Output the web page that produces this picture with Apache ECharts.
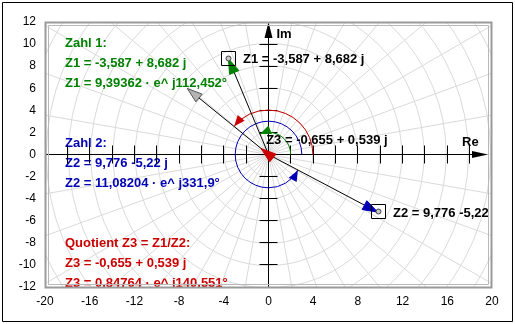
<!DOCTYPE html>
<html>
<head>
<meta charset="utf-8">
<script src="https://cdn.jsdelivr.net/npm/echarts@6/dist/echarts.min.js"></script>
<style>
  html, body { margin: 0; padding: 0; background: #fff; }
  #chart { width: 515px; height: 324px; }
</style>
</head>
<body>
<div id="chart"></div>
<script>
// Complex numbers as [real, imaginary]
const Z1 = [-3.587, 8.682];
const Z2 = [9.776, -5.22];
const Z3 = [-0.655, 0.539];           // quotient Z1 / Z2
// Polar form of Z1, Z2, Z3: magnitude and angle (degrees)
const magnitudes = [9.39362, 11.08204, 0.84764];
const anglesDeg = [112.452, 331.9, 140.551];
// Radius (axis units) of the angle arc drawn for Z1, Z2, Z3
const arcRadii = [2, 3, 4];

// Axis ranges and label steps
const xRange = [-20, 20];
const yRange = [-12, 12];
const xLabelStep = 4;
const yLabelStep = 2;
const axisTickStep = 2;
// Polar background grid
const ringStep = 2;
const spokeStepDeg = 10;

const GREEN = '#008000', BLUE = '#0000b4', RED = '#cc0000';
const FONT = '"Liberation Sans", Arial, sans-serif';
const BOLD = 'bold 13px ' + FONT;

// German number formatting with decimal comma
const de = v => String(v).replace('.', ',');
const cartText = (n, z) => 'Z' + n + ' = ' + de(z[0]) + (z[1] < 0 ? ' ' + de(z[1]) : ' + ' + de(z[1])) + ' j';
const polarText = (n, m, a) => 'Z' + n + ' = ' + de(m) + ' \u00b7 e^ j' + de(a) + '\u00b0';

const infoLines = [
  { text: 'Zahl 1:', color: GREEN },
  { text: cartText(1, Z1), color: GREEN },
  { text: polarText(1, magnitudes[0], anglesDeg[0]), color: GREEN },
  { text: 'Zahl 2:', color: BLUE, gap: true },
  { text: cartText(2, Z2), color: BLUE },
  { text: polarText(2, magnitudes[1], anglesDeg[1]), color: BLUE },
  { text: 'Quotient Z3 = Z1/Z2:', color: RED, gap: true },
  { text: cartText(3, Z3), color: RED },
  { text: polarText(3, magnitudes[2], anglesDeg[2]), color: RED }
];

const chart = echarts.init(document.getElementById('chart'), null, { renderer: 'canvas' });

function arrowHead(tip, dir, len, half) {
  const l = Math.hypot(dir[0], dir[1]);
  const d = [dir[0] / l, dir[1] / l];
  const n = [-d[1], d[0]];
  const b = [tip[0] - d[0] * len, tip[1] - d[1] * len];
  return [tip, [b[0] + n[0] * half, b[1] + n[1] * half], [b[0] - n[0] * half, b[1] - n[1] * half]];
}
const crisp = v => Math.round(v - 0.5) + 0.5;

// Light polar grid: rings and spokes around the origin
function renderPolarGrid(params, api) {
  const o = api.coord([0, 0]);
  const ux = api.size([1, 0])[0], uy = api.size([0, 1])[1];
  const u = (ux + uy) / 2;
  const kids = [];
  const style = { fill: 'none', stroke: '#dadada', lineWidth: 1 };
  for (let r = ringStep; r <= 26; r += ringStep) {
    kids.push({ type: 'circle', shape: { cx: o[0], cy: o[1], r: r * u }, style });
  }
  for (let a = 0; a < 360; a += spokeStepDeg) {
    const t = a * Math.PI / 180;
    kids.push({ type: 'line', shape: { x1: o[0], y1: o[1], x2: o[0] + Math.cos(t) * 400, y2: o[1] - Math.sin(t) * 400 }, style });
  }
  return { type: 'group', children: kids };
}

// Axes through the origin, angle arcs, vectors and their labels
function renderPlane(params, api) {
  const o = api.coord([0, 0]);
  const ox = crisp(o[0]), oy = crisp(o[1]);
  const ux = api.size([1, 0])[0], uy = api.size([0, 1])[1];
  const u = (ux + uy) / 2;
  const left = api.coord([xRange[0], 0])[0], right = api.coord([xRange[1], 0])[0];
  const top = api.coord([0, yRange[1]])[1], bottom = api.coord([0, yRange[0]])[1];
  const kids = [];
  const black = { stroke: '#000', lineWidth: 1 };

  // ticks
  for (let v = xRange[0] + axisTickStep; v < xRange[1]; v += axisTickStep) {
    if (v === 0) continue;
    const x = crisp(api.coord([v, 0])[0]);
    kids.push({ type: 'line', shape: { x1: x, y1: oy - 9, x2: x, y2: oy + 9 }, style: black });
  }
  for (let v = yRange[0] + axisTickStep; v < yRange[1]; v += axisTickStep) {
    if (v === 0) continue;
    const y = crisp(api.coord([0, v])[1]);
    kids.push({ type: 'line', shape: { x1: ox - 9, y1: y, x2: ox + 9, y2: y }, style: black });
  }
  // axis lines with arrows
  const xTip = right - 4;
  kids.push({ type: 'line', shape: { x1: left, y1: oy, x2: xTip - 4, y2: oy }, style: black });
  kids.push({ type: 'polygon', shape: { points: arrowHead([xTip, oy], [1, 0], 16, 3.5) }, style: { fill: '#000' } });
  kids.push({ type: 'line', shape: { x1: ox, y1: bottom, x2: ox, y2: top + 4 }, style: black });
  kids.push({ type: 'polygon', shape: { points: arrowHead([ox, top], [0, -1], 16, 4) }, style: { fill: '#000' } });
  kids.push({ type: 'text', style: { text: 'Re', x: xTip - 26, y: oy - 12, fill: '#000', font: BOLD, align: 'left', verticalAlign: 'middle' } });
  kids.push({ type: 'text', style: { text: 'Im', x: ox + 8, y: top + 12, fill: '#000', font: BOLD, align: 'left', verticalAlign: 'middle' } });

  // angle arcs with arrowheads
  const arcColors = [GREEN, BLUE, RED];
  anglesDeg.forEach((deg, i) => {
    const r = arcRadii[i] * u;
    const t = deg * Math.PI / 180;
    kids.push({ type: 'arc', shape: { cx: o[0], cy: o[1], r, startAngle: 0, endAngle: -t, clockwise: false }, style: { fill: 'none', stroke: arcColors[i], lineWidth: 1 } });
    const tip = [o[0] + r * Math.cos(t), o[1] - r * Math.sin(t)];
    kids.push({ type: 'polygon', shape: { points: arrowHead(tip, [-Math.sin(t), -Math.cos(t)], 11, 4.5) }, style: { fill: arcColors[i] } });
  });

  // vectors; the grey one is Z3 stretched by |Z2| (so its length is |Z1|)
  const z3Scaled = [Z3[0] * magnitudes[1], Z3[1] * magnitudes[1]];
  const vectors = [
    { z: z3Scaled, fill: '#b4b4b4', stroke: '#555' },
    { z: Z1, fill: GREEN, stroke: GREEN },
    { z: Z2, fill: BLUE, stroke: BLUE },
    { z: Z3, fill: RED, stroke: RED }
  ];
  vectors.forEach(v => {
    const p = api.coord(v.z);
    kids.push({ type: 'line', shape: { x1: o[0], y1: o[1], x2: p[0], y2: p[1] }, style: black });
    kids.push({ type: 'polygon', shape: { points: arrowHead(p, [p[0] - o[0], p[1] - o[1]], 15, 5) }, style: { fill: v.fill, stroke: v.stroke, lineWidth: 1 } });
  });

  // end markers with boxes and labels
  [[Z1, 'Z1 = ' + de(Z1[0]) + ' + ' + de(Z1[1]) + ' j', 15, 1],
   [Z2, 'Z2 = ' + de(Z2[0]) + ' ' + de(Z2[1]), 15, 2]].forEach(([z, label, dx, dy]) => {
    const p = api.coord(z);
    const cx = Math.round(p[0]), cy = Math.round(p[1]) - 1;
    kids.push({ type: 'rect', shape: { x: cx - 6.5, y: cy - 6.5, width: 14, height: 14 }, style: { fill: 'none', stroke: '#000', lineWidth: 1 } });
    kids.push({ type: 'circle', shape: { cx: cx + 0.5, cy: cy + 0.5, r: 2.5 }, style: { fill: '#c8c8c8', stroke: '#404040', lineWidth: 1 } });
    kids.push({ type: 'text', style: { text: label, x: cx + dx, y: cy + dy, fill: '#000', font: BOLD, align: 'left', verticalAlign: 'middle' } });
  });
  const p3 = api.coord(Z3);
  kids.push({ type: 'text', style: { text: 'Z3 = ' + de(Z3[0]) + ' + ' + de(Z3[1]) + ' j', x: p3[0] + 5, y: p3[1] - 8, fill: '#000', font: BOLD, align: 'left', verticalAlign: 'middle' } });

  return { type: 'group', children: kids };
}

// Text block on the left
function renderInfo(params, api) {
  const left = api.coord([xRange[0], 0])[0];
  const top = api.coord([0, yRange[1]])[1];
  const kids = [];
  let y = top + 21;
  infoLines.forEach(l => {
    if (l.gap) y += 40;
    kids.push({ type: 'text', style: { text: l.text, x: left + 20, y, fill: l.color, font: BOLD, align: 'left', verticalAlign: 'middle' } });
    y += 20;
  });
  return { type: 'group', children: kids };
}

const option = {
  animation: false,
  backgroundColor: '#fff',
  grid: { left: 45, right: 23, top: 22, bottom: 37 },
  xAxis: {
    type: 'value', min: xRange[0], max: xRange[1], interval: xLabelStep,
    axisLine: { show: false }, axisTick: { show: false }, splitLine: { show: false },
    axisLabel: { color: '#000', fontSize: 12, fontFamily: FONT, margin: 9 }
  },
  yAxis: {
    type: 'value', min: yRange[0], max: yRange[1], interval: yLabelStep,
    axisLine: { show: false }, axisTick: { show: false }, splitLine: { show: false },
    axisLabel: { color: '#000', fontSize: 12, fontFamily: FONT, margin: 9 }
  },
  series: [
    { type: 'custom', coordinateSystem: 'cartesian2d', clip: true, z: 1, silent: true, data: [[0, 0]], renderItem: renderPolarGrid },
    { type: 'custom', coordinateSystem: 'cartesian2d', clip: true, z: 2, silent: true, data: [[0, 0]], renderItem: renderInfo },
    { type: 'custom', coordinateSystem: 'cartesian2d', clip: true, z: 3, silent: true, data: [[0, 0]], renderItem: renderPlane }
  ],
  graphic: [
    { type: 'rect', z: 100, silent: true, shape: { x: 2.5, y: 2.5, width: 510, height: 319 }, style: { fill: 'none', stroke: '#000', lineWidth: 1 } },
    { type: 'rect', z: 100, silent: true, shape: { x: 45.5, y: 22.5, width: 446, height: 265 }, style: { fill: 'none', stroke: '#9a9a9a', lineWidth: 2 } },
    { type: 'rect', z: 100, silent: true, shape: { x: 48.5, y: 25.5, width: 440, height: 259 }, style: { fill: 'none', stroke: '#b8b8b8', lineWidth: 1 } }
  ]
};
chart.setOption(option);
</script>
</body>
</html>
